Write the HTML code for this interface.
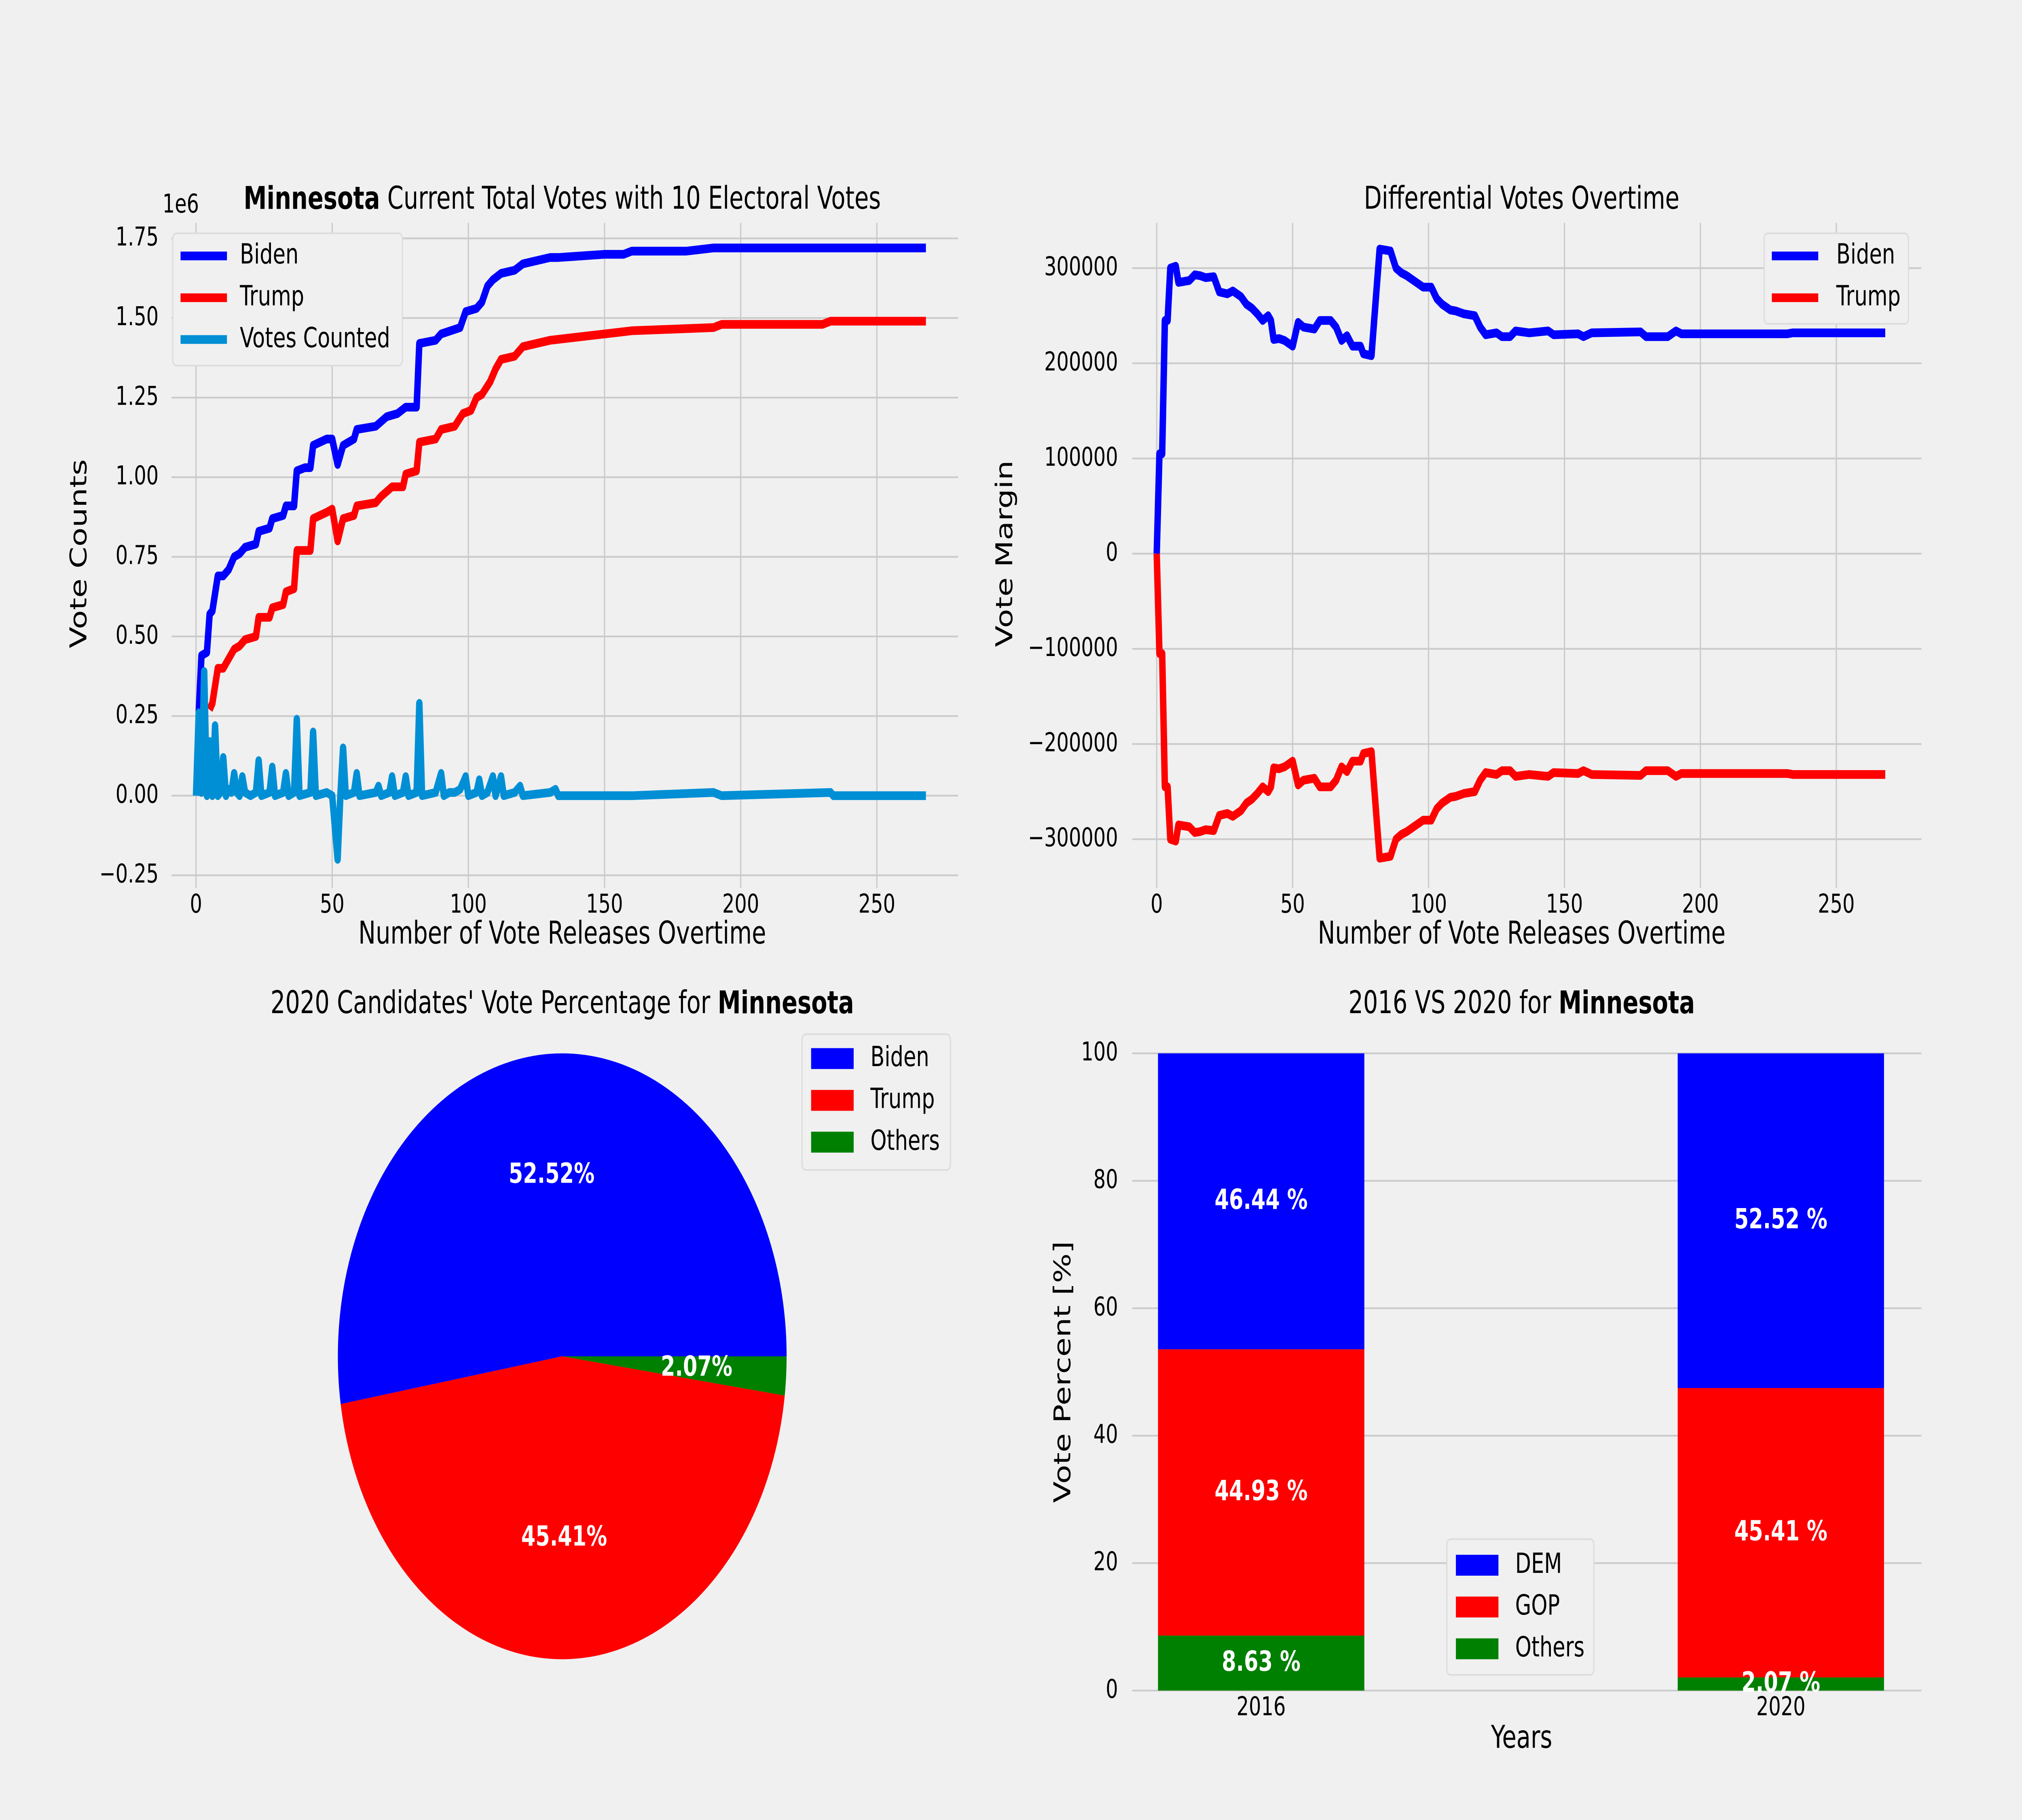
<!DOCTYPE html>
<html><head><meta charset="utf-8">
<style>
html,body{margin:0;padding:0;background:#f0f0f0;width:100vw;height:100vh;overflow:hidden;}
svg{display:block;width:100vw;height:100vh;font-family:"DejaVu Sans","Liberation Sans",sans-serif;}
</style></head>
<body>
<svg id="fig" xmlns="http://www.w3.org/2000/svg" viewBox="0 0 1568 1045.33" preserveAspectRatio="none">
<rect x="0" y="0" width="1568" height="1045.33" fill="#f0f0f0"/>
<g id="tl"></g>
<g id="tr"></g>
<g id="pie"></g>
<g id="bar"></g>
</svg>
<script>
// ---------- DATA ----------
const tlXTicks = [0, 50, 100, 150, 200, 250];
const tlYTicks = [-0.25, 0, 0.25, 0.5, 0.75, 1.0, 1.25, 1.5, 1.75];
const tlYTickLabels = ["\u22120.25", "0.00", "0.25", "0.50", "0.75", "1.00", "1.25", "1.50", "1.75"];
const bidenIdx = [1,2,4,5,6,8,10,12,14,16,18,22,23,27,28,32,33,36,37,40,42,43,48,50,52,54,58,59,66,70,74,77,81,82,88,90,97,99,103,105,107,109,112,117,120,130,133,150,157,160,180,190,193,215,233,268];
const bidenVotes = [0.26,0.44,0.45,0.57,0.58,0.69,0.69,0.71,0.75,0.76,0.78,0.79,0.83,0.84,0.87,0.88,0.91,0.91,1.02,1.03,1.03,1.10,1.12,1.12,1.04,1.10,1.12,1.15,1.16,1.19,1.20,1.22,1.22,1.42,1.43,1.45,1.47,1.52,1.53,1.55,1.60,1.62,1.64,1.65,1.67,1.69,1.69,1.70,1.70,1.71,1.71,1.72,1.72,1.72,1.72,1.72];
const trumpIdx = [5,6,8,10,12,14,16,18,22,23,27,28,32,33,36,37,42,43,48,50,52,54,58,59,66,68,72,76,77,81,82,88,90,95,98,101,103,105,108,110,112,117,120,125,130,140,150,160,190,193,230,233,268];
const trumpVotes = [0.27,0.29,0.40,0.40,0.43,0.46,0.47,0.49,0.50,0.56,0.56,0.59,0.60,0.64,0.65,0.77,0.77,0.87,0.89,0.90,0.80,0.87,0.88,0.91,0.92,0.94,0.97,0.97,1.01,1.02,1.11,1.12,1.15,1.16,1.20,1.21,1.25,1.26,1.30,1.34,1.37,1.38,1.41,1.42,1.43,1.44,1.45,1.46,1.47,1.48,1.48,1.49,1.49];
const countIdx = [0,1,2,3,4,5,6,7,8,9,10,11,12,13,14,15,16,17,18,20,22,23,24,27,28,29,32,33,34,36,37,38,42,43,44,48,50,52,53,54,55,58,59,60,66,67,68,71,72,73,76,77,78,81,82,83,88,90,91,93,95,97,99,100,103,104,105,107,109,110,112,113,117,119,120,130,132,133,160,190,193,233,234,268];
const countVotes = [0,0.26,0.01,0.39,0,0.17,0,0.22,0,0.01,0.12,0,0.02,0.01,0.07,0.01,0,0.06,0.01,0,0.01,0.11,0,0.01,0.09,0,0.01,0.07,0,0.01,0.24,0,0.01,0.20,0,0.01,0,-0.20,0,0.15,0,0.01,0.07,0,0.01,0.03,0,0.01,0.06,0,0.01,0.06,0,0.01,0.29,0,0.01,0.07,0,0.01,0.01,0.02,0.06,0,0.01,0.05,0,0.01,0.06,0,0.06,0,0.01,0.03,0,0.01,0.02,0,0,0.01,0,0.01,0,0];

const trXTicks = [0, 50, 100, 150, 200, 250];
const trYTicks = [-300000, -200000, -100000, 0, 100000, 200000, 300000];
const trYTickLabels = ["\u2212300000", "\u2212200000", "\u2212100000", "0", "100000", "200000", "300000"];
const marginIdx = [0,1,2,3,4,5,7,8,12,14,16,18,21,23,26,28,31,33,35,37,39,41,42,43,45,47,50,52,54,58,60,64,66,68,70,72,75,76,79,82,86,88,90,92,95,98,101,103,105,108,110,113,117,119,121,125,127,130,132,137,144,146,155,157,160,178,180,188,191,193,215,232,234,268];
const bidenMargin = [0,105000,105000,245000,245000,300000,302000,285000,287000,293000,292000,290000,291000,275000,273000,276000,270000,262000,258000,252000,245000,250000,245000,225000,226000,224000,218000,243000,238000,236000,245000,245000,238000,224000,229000,218000,218000,210000,208000,320000,318000,300000,295000,292000,286000,280000,280000,268000,262000,256000,255000,252000,250000,238000,230000,232000,228000,228000,234000,232000,234000,230000,231000,228000,232000,233000,228000,228000,234000,231000,231000,231000,232000,232000];
const trumpMargin = [0,-105000,-105000,-245000,-245000,-300000,-302000,-285000,-287000,-293000,-292000,-290000,-291000,-275000,-273000,-276000,-270000,-262000,-258000,-252000,-245000,-250000,-245000,-225000,-226000,-224000,-218000,-243000,-238000,-236000,-245000,-245000,-238000,-224000,-229000,-218000,-218000,-210000,-208000,-320000,-318000,-300000,-295000,-292000,-286000,-280000,-280000,-268000,-262000,-256000,-255000,-252000,-250000,-238000,-230000,-232000,-228000,-228000,-234000,-232000,-234000,-230000,-231000,-228000,-232000,-233000,-228000,-228000,-234000,-231000,-231000,-231000,-232000,-232000];

const pieLabels = ["Biden", "Trump", "Others"];
const pieValues = [52.52, 45.41, 2.07];

const barYears = ["2016", "2020"];
const barDem = [46.44, 52.52];
const barGop = [44.93, 45.41];
const barOthers = [8.63, 2.07];
const barYTicks = [0, 20, 40, 60, 80, 100];

// ---------- HELPERS ----------
const NS = "http://www.w3.org/2000/svg";
function mk(parent, tag, attrs, name) {
  const el = document.createElementNS(NS, tag);
  for (const k in attrs) el.setAttribute(k, attrs[k]);
  
  
  parent.appendChild(el);
  return el;
}
function txt(parent, x, y, s, size, name, opts) {
  opts = opts || {};
  const el = mk(parent, 'text', {x: x, y: y, 'font-size': size, fill: opts.fill || '#000',
    'text-anchor': opts.anchor || 'middle', 'dominant-baseline': opts.base || 'middle',
    'font-weight': opts.weight || 'normal'}, name);
  if (opts.rot) el.setAttribute('transform', 'rotate(-90 ' + x + ' ' + y + ')');
  if (opts.html) el.innerHTML = s; else el.textContent = s;
  return el;
}
function polyline(parent, xs, ys, color, name) {
  const pts = xs.map((x, i) => x.toFixed(2) + ',' + ys[i].toFixed(2)).join(' ');
  return mk(parent, 'polyline', {points: pts, fill: 'none', stroke: color, 'stroke-width': 5,
    'stroke-linejoin': 'round', 'stroke-linecap': 'butt'}, name);
}
const GRID = '#cbcbcb';

// ---------- TOP LEFT ----------
(function(){
  const g = document.getElementById('tl');
  const L = 133, R = 743, T = 128, B = 510;
  const xs = v => 152 + v * 2.112;
  const ys = v => 457 - v * 182.9;
  tlXTicks.forEach(t => {
    mk(g, 'line', {x1: xs(t), x2: xs(t), y1: T, y2: B, stroke: GRID, 'stroke-width': 1}, 'x-gridline');
    txt(g, xs(t), 520, String(t), 15, 'x-tick-label');
  });
  tlYTicks.forEach((t, i) => {
    mk(g, 'line', {x1: L, x2: R, y1: ys(t), y2: ys(t), stroke: GRID, 'stroke-width': 1}, 'y-gridline');
    txt(g, 123, ys(t), tlYTickLabels[i], 15, 'y-tick-label', {anchor: 'end'});
  });
  txt(g, 126, 118, '1e6', 15, 'y-axis-offset', {anchor: 'start'});
  polyline(g, bidenIdx.map(xs), bidenVotes.map(ys), '#0000ff', 'biden-votes-line');
  polyline(g, trumpIdx.map(xs), trumpVotes.map(ys), '#ff0000', 'trump-votes-line');
  polyline(g, countIdx.map(xs), countVotes.map(ys), '#008fd5', 'votes-counted-line');
  txt(g, 436, 115, '<tspan font-weight="bold">Minnesota</tspan> Current Total Votes with 10 Electoral Votes', 18, 'chart-title', {html: true});
  txt(g, 436, 537, 'Number of Vote Releases Overtime', 18, 'x-axis-title');
  txt(g, 62, 318, 'Vote Counts', 18, 'y-axis-title', {rot: true});
  const lg = mk(g, 'g', {}, 'legend');
  mk(lg, 'rect', {x: 134, y: 134, width: 178, height: 76, rx: 3, fill: '#f0f0f0', stroke: '#dddddd', 'stroke-width': 1}, 'legend-frame');
  [['Biden', '#0000ff', 147], ['Trump', '#ff0000', 171], ['Votes Counted', '#008fd5', 195]].forEach(e => {
    mk(lg, 'line', {x1: 140, x2: 176, y1: e[2], y2: e[2], stroke: e[1], 'stroke-width': 5}, 'legend-swatch');
    txt(lg, 186, e[2], e[0], 16, 'legend-entry', {anchor: 'start'});
  });
})();

// ---------- TOP RIGHT ----------
(function(){
  const g = document.getElementById('tr');
  const L = 878, R = 1490, T = 128, B = 510;
  const xs = v => 897 + v * 2.108;
  const ys = v => 318 - v * 0.00054667;
  trXTicks.forEach(t => {
    mk(g, 'line', {x1: xs(t), x2: xs(t), y1: T, y2: B, stroke: GRID, 'stroke-width': 1}, 'x-gridline');
    txt(g, xs(t), 520, String(t), 15, 'x-tick-label');
  });
  trYTicks.forEach((t, i) => {
    mk(g, 'line', {x1: L, x2: R, y1: ys(t), y2: ys(t), stroke: GRID, 'stroke-width': 1}, 'y-gridline');
    txt(g, 867, ys(t), trYTickLabels[i], 15, 'y-tick-label', {anchor: 'end'});
  });
  polyline(g, marginIdx.map(xs), bidenMargin.map(ys), '#0000ff', 'biden-margin-line');
  polyline(g, marginIdx.map(xs), trumpMargin.map(ys), '#ff0000', 'trump-margin-line');
  txt(g, 1180, 115, 'Differential Votes Overtime', 18, 'chart-title');
  txt(g, 1180, 537, 'Number of Vote Releases Overtime', 18, 'x-axis-title');
  txt(g, 780, 318, 'Vote Margin', 18, 'y-axis-title', {rot: true});
  const lg = mk(g, 'g', {}, 'legend');
  mk(lg, 'rect', {x: 1368, y: 134, width: 112, height: 52, rx: 3, fill: '#f0f0f0', stroke: '#dddddd', 'stroke-width': 1}, 'legend-frame');
  [['Biden', '#0000ff', 147], ['Trump', '#ff0000', 171]].forEach(e => {
    mk(lg, 'line', {x1: 1374, x2: 1410, y1: e[2], y2: e[2], stroke: e[1], 'stroke-width': 5}, 'legend-swatch');
    txt(lg, 1424, e[2], e[0], 16, 'legend-entry', {anchor: 'start'});
  });
})();

// ---------- PIE ----------
(function(){
  const g = document.getElementById('pie');
  const cx = 436, cy = 779, r = 174;
  const colors = ['#0000ff', '#ff0000', '#008000'];
  const total = pieValues.reduce((a, b) => a + b, 0);
  let a0 = 0;
  pieValues.forEach((v, i) => {
    const a1 = a0 + v / total * 2 * Math.PI;
    const x0 = cx + r * Math.cos(a0), y0 = cy - r * Math.sin(a0);
    const x1 = cx + r * Math.cos(a1), y1 = cy - r * Math.sin(a1);
    const large = (a1 - a0) > Math.PI ? 1 : 0;
    mk(g, 'path', {d: `M${cx},${cy} L${x0},${y0} A${r},${r} 0 ${large} 0 ${x1},${y1} Z`, fill: colors[i]}, 'pie-slice-' + pieLabels[i].toLowerCase());
    const am = (a0 + a1) / 2;
    txt(g, cx + 0.6 * r * Math.cos(am), cy - 0.6 * r * Math.sin(am), v.toFixed(2) + '%', 16, 'pie-label', {fill: '#fff', weight: 'bold'});
    a0 = a1;
  });
  txt(g, 436, 577, "2020 Candidates' Vote Percentage for <tspan font-weight=\"bold\">Minnesota</tspan>", 18, 'chart-title', {html: true});
  const lg = mk(g, 'g', {}, 'legend');
  mk(lg, 'rect', {x: 622, y: 594, width: 115, height: 78, rx: 3, fill: '#f0f0f0', stroke: '#dddddd', 'stroke-width': 1}, 'legend-frame');
  pieLabels.forEach((l, i) => {
    const y = 608 + i * 24;
    mk(lg, 'rect', {x: 629, y: y - 6, width: 33, height: 12, fill: colors[i]}, 'legend-swatch');
    txt(lg, 675, y, l, 16, 'legend-entry', {anchor: 'start'});
  });
})();

// ---------- BAR ----------
(function(){
  const g = document.getElementById('bar');
  const L = 878, R = 1490;
  const ys = v => 971 - v * 3.66;
  const centers = [978, 1381];
  const w = 160;
  barYTicks.forEach(t => {
    mk(g, 'line', {x1: L, x2: R, y1: ys(t), y2: ys(t), stroke: GRID, 'stroke-width': 1}, 'y-gridline');
    txt(g, 867, ys(t), String(t), 15, 'y-tick-label', {anchor: 'end'});
  });
  barYears.forEach((yr, i) => {
    mk(g, 'line', {x1: centers[i], x2: centers[i], y1: ys(100), y2: ys(0), stroke: GRID, 'stroke-width': 1}, 'x-gridline');
    txt(g, centers[i], 981, yr, 15, 'x-tick-label');
  });
  barYears.forEach((yr, i) => {
    const segs = [[0, barOthers[i], '#008000', 'others'], [barOthers[i], barGop[i], '#ff0000', 'gop'], [barOthers[i] + barGop[i], barDem[i], '#0000ff', 'dem']];
    segs.forEach(s => {
      mk(g, 'rect', {x: centers[i] - w / 2, y: ys(s[0] + s[1]), width: w, height: ys(s[0]) - ys(s[0] + s[1]), fill: s[2]}, 'bar-' + s[3] + '-' + yr);
    });
    segs.forEach(s => {
      txt(g, centers[i], ys(s[0] + s[1] / 2), s[1].toFixed(2) + ' %', 16, 'bar-value-label', {fill: '#fff', weight: 'bold'});
    });
  });
  txt(g, 1180, 577, '2016 VS 2020 for <tspan font-weight="bold">Minnesota</tspan>', 18, 'chart-title', {html: true});
  txt(g, 1180, 999, 'Years', 18, 'x-axis-title');
  txt(g, 825, 788, 'Vote Percent [%]', 18, 'y-axis-title', {rot: true});
  const lg = mk(g, 'g', {}, 'legend');
  mk(lg, 'rect', {x: 1122, y: 884, width: 114, height: 78, rx: 3, fill: '#f0f0f0', stroke: '#dddddd', 'stroke-width': 1}, 'legend-frame');
  [['DEM', '#0000ff'], ['GOP', '#ff0000'], ['Others', '#008000']].forEach((e, i) => {
    const y = 899 + i * 24;
    mk(lg, 'rect', {x: 1129, y: y - 6, width: 33, height: 12, fill: e[1]}, 'legend-swatch');
    txt(lg, 1175, y, e[0], 16, 'legend-entry', {anchor: 'start'});
  });
})();
</script>
</body></html>
